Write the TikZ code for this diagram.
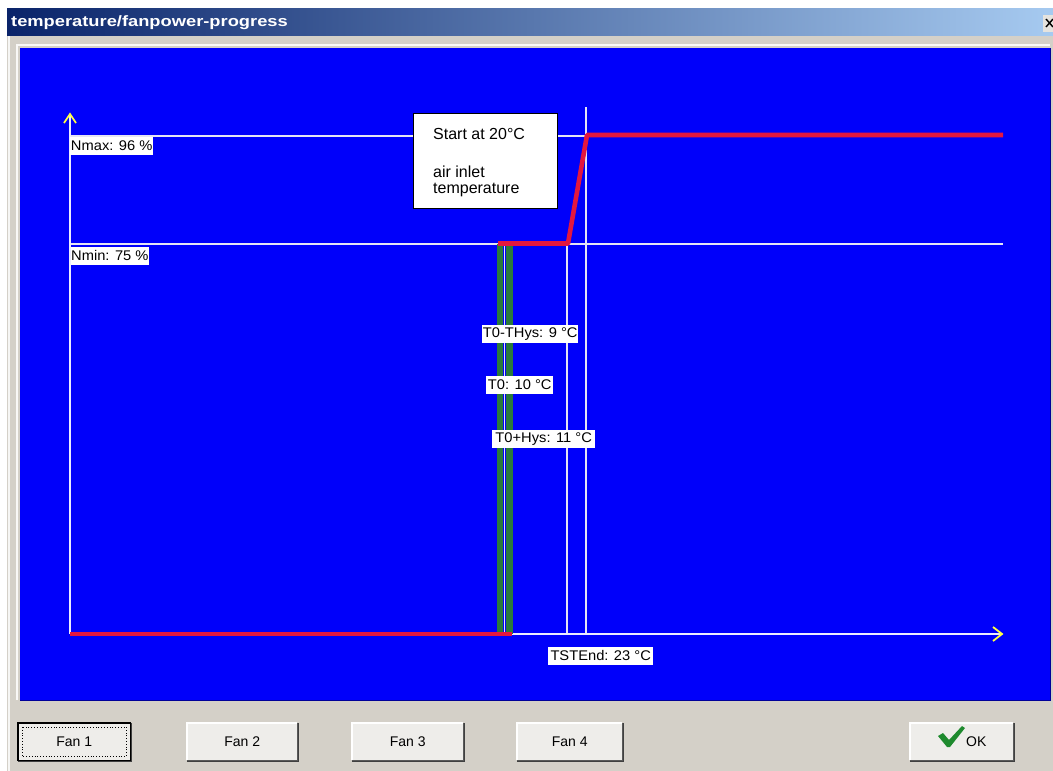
\documentclass[tikz,border=0pt]{standalone}
\usepackage{fontspec}
\setmainfont{Liberation Sans}
\usepackage{graphicx}
\definecolor{bggray}{HTML}{D4D0C8}
\definecolor{plotblue}{RGB}{0,0,250}
\definecolor{gridline}{HTML}{E4E4F4}
\definecolor{redline}{HTML}{E3173F}
\definecolor{greenbar}{HTML}{2A7A3A}
\definecolor{axisyellow}{HTML}{FFFF40}
\definecolor{titledark}{HTML}{0A246A}
\definecolor{titlelight}{HTML}{A6CAF0}
\definecolor{btnface}{HTML}{EEEDEA}
\definecolor{checkgreen}{HTML}{1E8A2E}
\newcommand\wlab[1]{\scalebox{1.05}[1]{#1}}
\tikzset{
  grid line/.style={draw=gridline, line width=1.1pt},
  axis line/.style={draw=white!92!blue, line width=1.6pt},
  axis tip/.style={draw=axisyellow, line width=1.8pt, line join=miter},
  curve/.style={draw=redline, line width=4.6pt, line join=round},
  greenbox/.style={fill=greenbar, draw=none},
  lbl/.style={fill=white, inner sep=0pt, anchor=north west, text=black,
    font=\fontsize{14}{15}\selectfont, minimum height=17.5pt},
  btn/.style={fill=btnface, draw=none, minimum height=37pt, inner sep=0pt,
    anchor=north west, font=\fontsize{14}{15}\selectfont},
  notebox/.style={fill=white, draw=black, line width=1.4pt, anchor=north west,
    minimum width=144pt, minimum height=95pt, inner sep=0pt},
  notefont/.style={anchor=base west, inner sep=0pt, align=left, font=\fontsize{16}{16}\selectfont},
}
\newcommand\bevel[1]{% #1 = node name
  \draw[white, line width=1.2pt] (#1.south west) -- (#1.north west) -- (#1.north east);
  \draw[gray!70!black, line width=1.2pt] (#1.north east) -- (#1.south east) -- (#1.south west);
  \draw[black!75, line width=1pt] ([xshift=0.8pt]#1.north east) -- ([xshift=0.8pt,yshift=-0.8pt]#1.south east) -- ([yshift=-0.8pt]#1.south west);
}
\begin{document}
\begin{tikzpicture}[x=1pt,y=-1pt]
\useasboundingbox (0,0) rectangle (1053,771);
% window background
\fill[bggray] (0,0) rectangle (1053,771);
\fill[white] (0,0) rectangle (1053,8);
\fill[white] (0,0) rectangle (7,771);
\draw[white!80!bggray, line width=2pt] (9,35) -- (9,771);
% title bar
\shade[left color=titledark, right color=titlelight] (7,8) rectangle (1053,35);
\node[anchor=west, text=white, inner sep=0pt, font=\bfseries\fontsize{15}{16}\selectfont]
  (title) at (11,23) {\scalebox{1.22}[1]{temperature/fanpower-progress}};
% partial close button
\fill[bggray!60!white] (1043,15) rectangle (1053,32);
\draw[black, line width=1.4pt] (1046,19) -- (1053,27) (1046,27) -- (1053,19);
% plot area
\draw[white!85!bggray, line width=1.5pt] (17,700) -- (17,45) -- (1050,45);
\fill[plotblue] (20,48) rectangle (1050,700);
\draw[blue!60!black, line width=1pt] (20,700) -- (1050,700) -- (1050,48);

% coordinates
\coordinate (origin) at (70,634);
\coordinate (ytop) at (70,115);
\coordinate (xend) at (1001,634);
\coordinate (nmaxL) at (70,136);
\coordinate (nmaxR) at (1003,136);
\coordinate (nminL) at (70,244);
\coordinate (nminR) at (1003,244);
\coordinate (v1top) at (586,107);
\coordinate (v1bot) at (586,634);
\coordinate (v2top) at (567,244);
\coordinate (v2bot) at (567,634);

% grid lines
\draw[grid line] (nmaxL) -- (nmaxR);
\draw[grid line] (nminL) -- (nminR);
\draw[grid line] (v1top) -- (v1bot);
\draw[grid line] (v2top) -- (v2bot);

% axes
\draw[axis line] (origin) -- (ytop);
\draw[axis line] (origin) -- (xend);
\draw[axis tip] (64,123) -- (70,114) -- (76,123);
\draw[axis tip] (993,627) -- (1002,634) -- (993,641);

% green bars
\fill[greenbox] (496.5,244) rectangle (503,634);
\fill[greenbox] (505.5,244) rectangle (512.5,634);
\draw[gridline, line width=0.8pt] (504.3,244) -- (504.3,634);

% red curve
\draw[curve] (70,634) -- (512,634);
\draw[curve] (498,243.5) -- (568,243.5) -- (587,135) -- (1003,135);

% labels
\node[lbl, minimum width=83pt] (nmax) at (70,137) {\wlab{Nmax: 96 \%}};
\node[lbl, minimum width=77pt] (nmin) at (71,247) {\wlab{Nmin: 75 \%}};
\node[lbl, minimum width=96pt] (thys) at (482,325) {\wlab{T0-THys: 9 °C}};
\node[lbl, minimum width=67pt] (tzero) at (486,376) {\wlab{T0: 10 °C}};
\node[lbl, minimum width=103pt] (tphys) at (492,430) {\wlab{T0+Hys: 11 °C}};
\node[lbl, minimum width=105pt] (tstend) at (548,647) {\wlab{TSTEnd: 23 °C}};

% note box
\node[notebox] (note) at (413,113) {};
\node[notefont] (notestart) at (433,139) {Start at 20°C};
\node[notefont] (noteair) at (433,193) {air inlet\\temperature};

% buttons
\node[btn, minimum width=112pt] (fan1) at (18,723) {Fan 1};
\bevel{fan1}
\draw[black, line width=1.3pt] (fan1.north west) rectangle (fan1.south east);
\draw[black, dotted, line width=0.8pt] ([xshift=4pt,yshift=-4pt]fan1.north west) rectangle ([xshift=-4pt,yshift=4pt]fan1.south east);
\node[btn, minimum width=110pt] (fan2) at (187,723) {Fan 2};
\bevel{fan2}
\node[btn, minimum width=111pt] (fan3) at (352,723) {Fan 3};
\bevel{fan3}
\node[btn, minimum width=105pt] (fan4) at (517,723) {Fan 4};
\bevel{fan4}
\node[btn, minimum width=103pt] (ok) at (910,723) {};
\bevel{ok}
\node[anchor=west, inner sep=0pt, font=\fontsize{14}{15}\selectfont] (oktext) at (966,742) {OK};
\fill[checkgreen] (938,736) -- (943,733) -- (949,740) -- (962,726) -- (965,728) -- (950,747) -- (947,747) -- cycle;
\end{tikzpicture}
\end{document}
